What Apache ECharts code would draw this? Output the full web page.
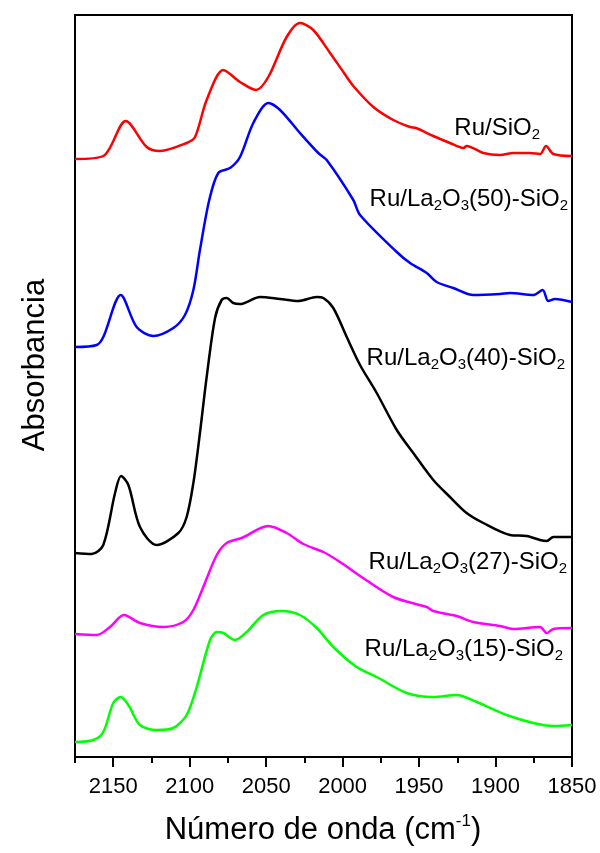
<!DOCTYPE html>
<html>
<head>
<meta charset="utf-8">
<script src="https://cdn.jsdelivr.net/npm/echarts@6/dist/echarts.min.js"></script>
<style>
  html, body { margin: 0; padding: 0; background: #fff; }
  #chart { width: 600px; height: 853px; }
</style>
</head>
<body>
<div id="chart"></div>
<script>
// FTIR spectra of adsorbed CO, stacked with vertical offsets (arbitrary absorbance units)
const majorTicks = [2150, 2100, 2050, 2000, 1950, 1900, 1850];
const minorTicks = [2175, 2125, 2075, 2025, 1975, 1925, 1875];

// Ru/SiO2
const wnRuSiO2  = [2175, 2156.5, 2141.8, 2128.1, 2119.4, 2102, 2096.5, 2088.9, 2078, 2067.1, 2056.6, 2048.6, 2036.6, 2027.9, 2019.2, 2008.2, 1999.5, 1993, 1979.9, 1966.9, 1955.9, 1952, 1940.7, 1929.8, 1921, 1918.9, 1908, 1897.1, 1888.4, 1877.5, 1870.9, 1867, 1862.2, 1850];
const absRuSiO2 = [598, 601, 636, 610, 606, 614, 620, 657, 687, 675, 667, 680, 720, 734, 727, 704, 685, 671, 650, 637, 630, 629, 621, 614, 609, 611, 604, 602, 604, 604, 603, 611, 603, 601];

// Ru/La2O3(50)-SiO2
const wnLa50  = [2175, 2160.8, 2156.5, 2145.1, 2134.7, 2123.8, 2110.7, 2103.1, 2097.6, 2093.3, 2087.2, 2081.3, 2073.6, 2067.1, 2058.4, 2048.6, 2040.9, 2027.9, 2015.9, 2010.4, 1993, 1988.6, 1964.6, 1955.9, 1945, 1938.5, 1927.6, 1914.5, 1897.1, 1890.5, 1875.3, 1869.2, 1865.5, 1861.1, 1850];
const absLa50 = [410, 412, 420, 462, 430, 421, 429, 442, 467, 507, 557, 584, 589, 600, 634, 654, 647, 624, 604, 597, 557, 542, 505, 494, 484, 475, 469, 462, 463, 464, 462, 467, 456, 458, 455];

// Ru/La2O3(40)-SiO2
const wnLa40  = [2175, 2164.1, 2156.5, 2148.8, 2144.9, 2140.1, 2132.5, 2121.6, 2107.4, 2102, 2097.6, 2093.3, 2088.9, 2083.4, 2079.1, 2075.8, 2071.5, 2067.1, 2054, 2040.9, 2029, 2016.9, 2012.6, 2006.1, 1997.3, 1988.6, 1977.7, 1964.6, 1953.8, 1940.7, 1929.8, 1918.9, 1908, 1890.5, 1879.6, 1870.9, 1866.5, 1862.2, 1850];
const absLa40 = [204, 203, 212, 264, 281, 272, 230, 212, 224, 240, 274, 324, 380, 439, 457, 459, 454, 453, 460, 458, 456, 460, 459, 449, 420, 392, 364, 327, 304, 277, 260, 244, 234, 222, 221, 217, 216, 220, 220];

// Ru/La2O3(27)-SiO2
const wnLa27  = [2175, 2160.8, 2152.1, 2143, 2132.5, 2117.3, 2104.2, 2097.6, 2091.1, 2082.3, 2075.8, 2066, 2048.6, 2036.6, 2025.7, 2012.6, 2001.7, 1988.6, 1966.9, 1945, 1940.7, 1925.4, 1914.5, 1897.1, 1888.4, 1870.9, 1866.5, 1862.2, 1850];
const absLa27 = [123, 122, 130, 142, 134, 130, 135, 147, 170, 202, 214, 219, 231, 224, 213, 205, 195, 181, 160, 150, 146, 141, 135, 131, 128, 130, 124, 128, 129];

// Ru/La2O3(15)-SiO2
const wnLa15  = [2175, 2163, 2156.5, 2150, 2145.1, 2140.1, 2132.5, 2121.6, 2110.7, 2102, 2095.4, 2086.7, 2082.3, 2078, 2070.4, 2062.7, 2051.9, 2039.8, 2027.9, 2016.9, 2006.1, 1990.8, 1977.7, 1958.1, 1940.7, 1925.4, 1912.3, 1892.7, 1875.3, 1862.2, 1850];
const absLa15 = [15, 17, 25, 54, 60, 52, 32, 27, 29, 42, 70, 117, 125, 124, 117, 125, 142, 146, 142, 129, 110, 90, 80, 64, 60, 62, 55, 42, 34, 31, 32];

const seriesNames  = ['Ru/SiO2', 'Ru/La2O3(50)-SiO2', 'Ru/La2O3(40)-SiO2', 'Ru/La2O3(27)-SiO2', 'Ru/La2O3(15)-SiO2'];
const seriesColors = ['#ff0000', '#0000ff', '#000000', '#ff00ff', '#00ff00'];
const seriesX = [wnRuSiO2, wnLa50, wnLa40, wnLa27, wnLa15];
const seriesY = [absRuSiO2, absLa50, absLa40, absLa27, absLa15];

const FONT = 'Liberation Sans, Arial, sans-serif';

// points sorted by ascending wavenumber
function pairs(xs, ys) {
  return xs.map((x, i) => [x, ys[i]]).sort((a, b) => a[0] - b[0]);
}

// Chemical formula labels drawn with rich text subscripts
const richLabel = {
  m: { fontFamily: FONT, fontSize: 24, lineHeight: 28, fill: '#000' },
  s: { fontFamily: FONT, fontSize: 15, lineHeight: 1, verticalAlign: 'bottom', fill: '#000' }
};
function formula(t) {
  // a digit right after a letter is a subscript (La2, O3, O2)
  return t.replace(/([A-Za-z])(\d)/g, '$1\u0000$2\u0001')
          .split(/(\u0000\d\u0001)/)
          .filter(p => p.length)
          .map(p => p[0] === '\u0000' ? '{s|' + p[1] + '}' : '{m|' + p + '}')
          .join('');
}
const labelPos = [
  [540, 128], [568, 199], [565, 358], [567, 562], [563, 649]
];

const chart = echarts.init(document.getElementById('chart'), null, { renderer: 'canvas' });

chart.setOption({
  animation: false,
  backgroundColor: '#fff',
  grid: {
    left: 75, right: 28, top: 15, bottom: 96,
    show: true, borderColor: '#000', borderWidth: 2, backgroundColor: 'transparent'
  },
  xAxis: [
    {
      type: 'value', min: 1850, max: 2175, inverse: true, position: 'bottom',
      axisLine: { show: false },
      axisTick: { show: true, inside: false, length: 10, customValues: majorTicks,
                  lineStyle: { color: '#000', width: 2 } },
      axisLabel: { customValues: majorTicks, formatter: v => String(v),
                   fontSize: 22, fontFamily: FONT, color: '#000', margin: 19 },
      splitLine: { show: false }
    },
    {
      type: 'value', min: 1850, max: 2175, inverse: true, position: 'bottom',
      axisLine: { show: false },
      axisTick: { show: true, inside: false, length: 6, customValues: minorTicks,
                  lineStyle: { color: '#000', width: 2 } },
      axisLabel: { show: false },
      splitLine: { show: false }
    }
  ],
  yAxis: {
    type: 'value', min: 0, max: 742,
    axisLine: { show: false }, axisTick: { show: false },
    axisLabel: { show: false }, splitLine: { show: false }
  },
  series: seriesNames.map((name, i) => ({
    name: name,
    type: 'line',
    xAxisIndex: 0,
    data: pairs(seriesX[i], seriesY[i]),
    showSymbol: false,
    smooth: 0.3,
    lineStyle: { color: seriesColors[i], width: 2.5 },
    z: 3
  })),
  graphic: [
    ...seriesNames.map((name, i) => ({
      type: 'text',
      x: labelPos[i][0], y: labelPos[i][1],
      style: {
        text: formula(name), rich: richLabel,
        align: 'right', verticalAlign: 'middle'
      },
      z: 10
    })),
    {
      type: 'text', x: 323, y: 830,
      style: {
        text: '{t|Número de onda (cm}{p|-1}{t|)}',
        rich: {
          t: { fontFamily: FONT, fontSize: 31, lineHeight: 34, fill: '#000' },
          p: { fontFamily: FONT, fontSize: 17, lineHeight: 17, verticalAlign: 'top', fill: '#000' }
        },
        align: 'center', verticalAlign: 'middle'
      }
    },
    {
      type: 'text', x: 35, y: 365, rotation: Math.PI / 2,
      style: {
        text: 'Absorbancia', fontFamily: FONT, fontSize: 31, fill: '#000',
        align: 'center', verticalAlign: 'middle'
      }
    }
  ]
});
</script>
</body>
</html>
